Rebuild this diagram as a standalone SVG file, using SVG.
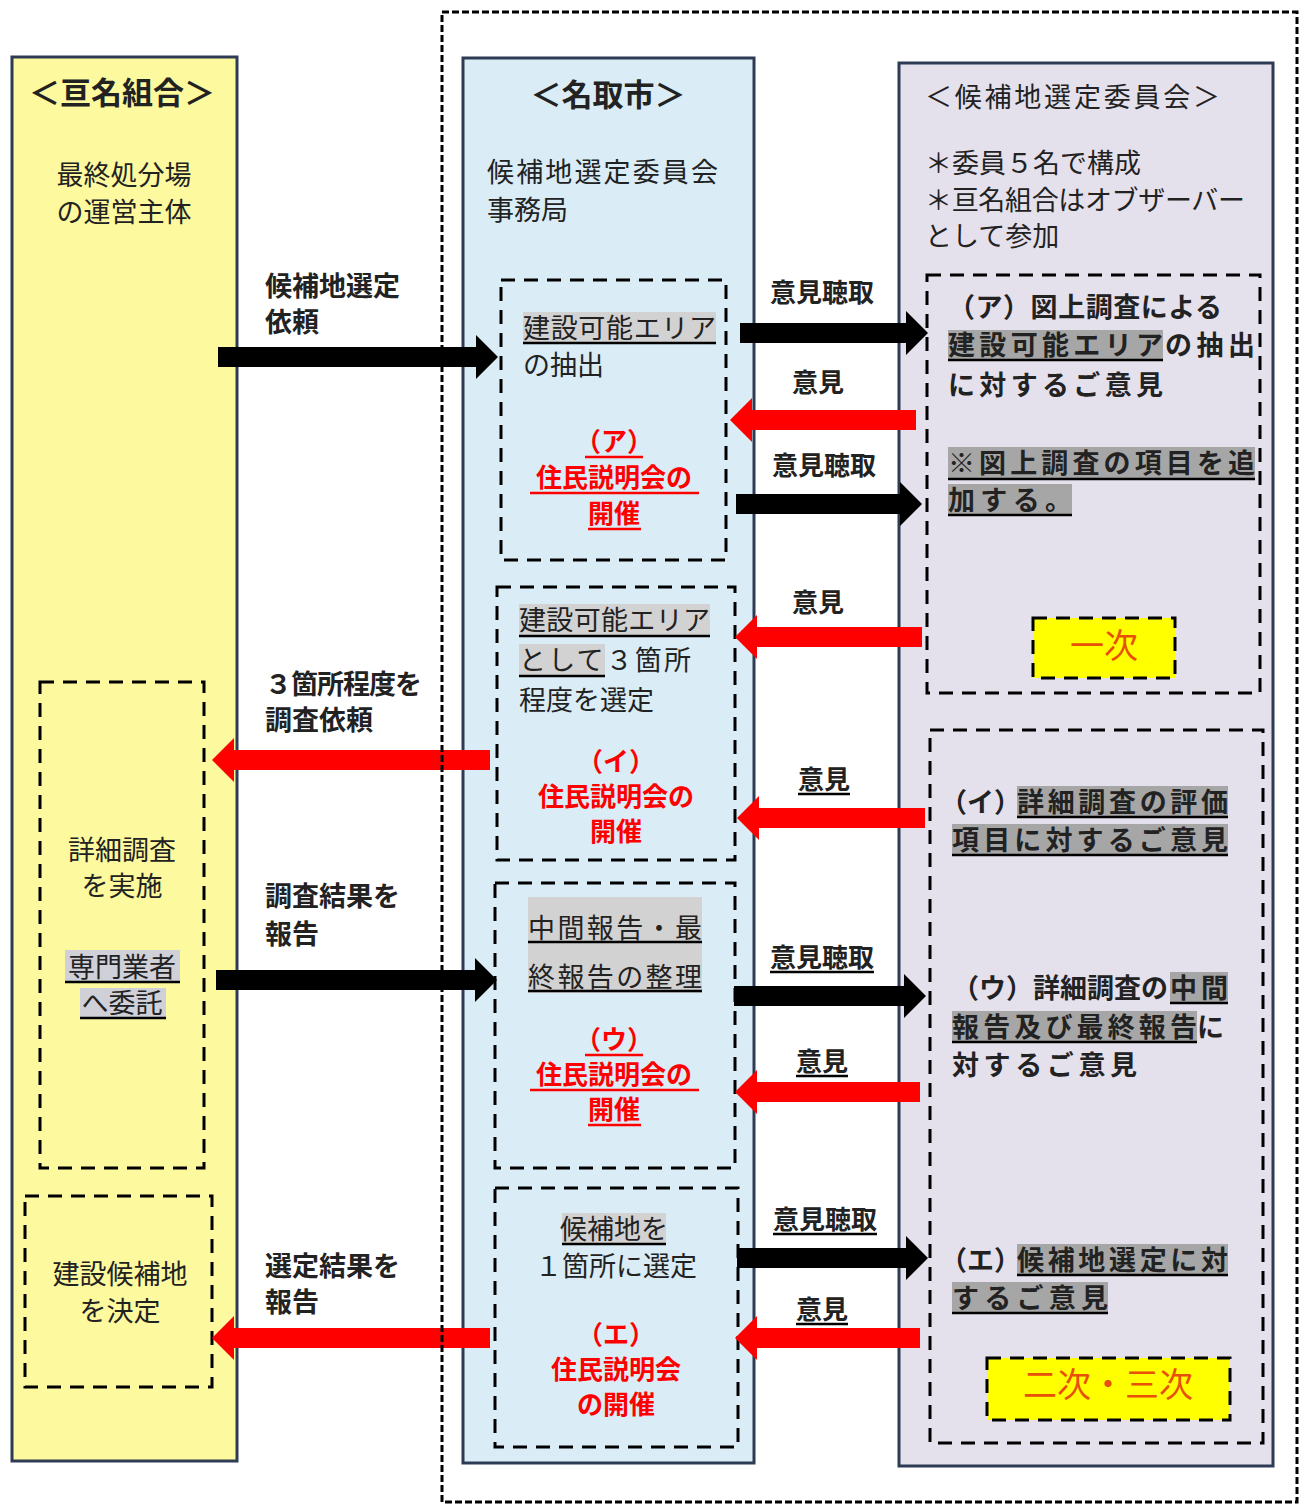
<svg xmlns="http://www.w3.org/2000/svg" width="1306" height="1506" viewBox="0 0 1306 1506">
<style>
text{font-family:"Noto Sans CJK JP","Noto Sans CJK SC",sans-serif;fill:#222}
.col{stroke:#2e3b55;stroke-width:3}
.dash{fill:none;stroke:#000;stroke-width:3;stroke-dasharray:14 9}
.t{font-size:27px}
.tb{font-size:27px;font-weight:bold}
.title{font-size:31px;font-weight:bold}
.red{font-size:26px;font-weight:bold;fill:#ff0000}
.lbl{font-size:26px;font-weight:bold;text-anchor:middle}
.mid{text-anchor:middle}
.hl{fill:#a6a6a6}
.hl2{fill:#d2d2d2}
.ul{stroke:#000;stroke-width:2.5}
.ulr{stroke:#ff0000;stroke-width:2.5}
.blk{fill:#000}
.rd{fill:#ff0000}
.ord{font-size:34px;fill:#e8500a;text-anchor:middle}
</style>

<g id="col-watari">
<rect class="col" x="12" y="57" width="225" height="1404" fill="#fdf99e"/>
<text class="title mid" x="122" y="104" font-size="30">＜亘名組合＞</text>
<text class="t mid" x="124" y="185" fill="#333">最終処分場<tspan x="124" dy="37">の運営主体</tspan></text>
</g>

<g id="node-survey">
<rect class="dash" x="40" y="682" width="164" height="486"/>
<text class="t mid" x="122" y="860">詳細調査<tspan x="122" dy="36">を実施</tspan></text>
<rect x="65" y="950" width="115" height="32" fill="#cfd0d8"/>
<rect x="80" y="988" width="86" height="31" fill="#cfd0d8"/>
<text class="t mid" x="122" y="977">専門業者<tspan x="122" dy="36">へ委託</tspan></text>
<line class="ul" x1="65" y1="982" x2="180" y2="982"/>
<line class="ul" x1="80" y1="1018" x2="166" y2="1018"/>
</g>

<g id="node-decide">
<rect class="dash" x="25" y="1196" width="187" height="191"/>
<text class="t mid" x="120" y="1284">建設候補地<tspan x="120" dy="37">を決定</tspan></text>
</g>

<g id="col-natori">
<rect class="col" x="463" y="58" width="291" height="1405" fill="#daecf5"/>
<text class="title mid" x="608" y="106">＜名取市＞</text>
<text class="t" x="487" y="182"><tspan textLength="231">候補地選定委員会</tspan><tspan x="487" dy="38">事務局</tspan></text>
</g>

<g id="node-a">
<rect class="dash" x="501" y="280" width="225" height="280"/>
<rect class="hl2" x="523" y="312" width="193" height="32"/>
<text class="t" x="523" y="338"><tspan textLength="193">建設可能エリア</tspan><tspan x="523" dy="37">の抽出</tspan></text>
<line class="ul" x1="523" y1="343" x2="716" y2="343"/>
<text class="red mid" x="614" y="451">（ア）<tspan x="614" dy="36">住民説明会の</tspan><tspan x="614" dy="36">開催</tspan></text>
<line class="ulr" x1="585" y1="457" x2="643" y2="457"/>
<line class="ulr" x1="530" y1="493" x2="699" y2="493"/>
<line class="ulr" x1="588" y1="529" x2="641" y2="529"/>
</g>

<g id="node-b">
<rect class="dash" x="497" y="587" width="238" height="273"/>
<rect class="hl2" x="519" y="604" width="191" height="32"/>
<rect class="hl2" x="519" y="644" width="86" height="32"/>
<text class="t" x="519" y="630"><tspan textLength="191">建設可能エリア</tspan><tspan x="519" dy="40" textLength="172">として３箇所</tspan><tspan x="519" dy="40">程度を選定</tspan></text>
<line class="ul" x1="519" y1="636" x2="710" y2="636"/>
<line class="ul" x1="519" y1="676" x2="605" y2="676"/>
<text class="red mid" x="616" y="771">（イ）<tspan x="616" dy="35">住民説明会の</tspan><tspan x="616" dy="35">開催</tspan></text>
</g>

<g id="node-c">
<rect class="dash" x="495" y="883" width="240" height="285"/>
<rect class="hl2" x="528" y="897" width="174" height="96"/>
<text class="t" x="528" y="938"><tspan textLength="174">中間報告・最</tspan><tspan x="528" dy="49" textLength="174">終報告の整理</tspan></text>
<line class="ul" x1="528" y1="942" x2="702" y2="942"/>
<line class="ul" x1="528" y1="991" x2="702" y2="991"/>
<text class="red mid" x="614" y="1049">（ウ）<tspan x="614" dy="35">住民説明会の</tspan><tspan x="614" dy="35">開催</tspan></text>
<line class="ulr" x1="585" y1="1055" x2="643" y2="1055"/>
<line class="ulr" x1="530" y1="1090" x2="699" y2="1090"/>
<line class="ulr" x1="588" y1="1125" x2="641" y2="1125"/>
</g>

<g id="node-d">
<rect class="dash" x="495" y="1188" width="243" height="259"/>
<rect class="hl2" x="562" y="1213" width="104" height="31"/>
<text class="t mid" x="614" y="1239">候補地を<tspan x="616" dy="37">１箇所に選定</tspan></text>
<line class="ul" x1="562" y1="1244" x2="666" y2="1244"/>
<text class="red mid" x="616" y="1344">（エ）<tspan x="616" dy="35">住民説明会</tspan><tspan x="616" dy="35">の開催</tspan></text>
</g>

<g id="col-committee">
<rect class="col" x="899" y="63" width="374" height="1403" fill="#e4e0ec"/>
<text class="t" x="925" y="107" font-size="28" textLength="295">＜候補地選定委員会＞</text>
<text class="t" x="925" y="173">＊委員５名で構成<tspan x="925" dy="37" textLength="320">＊亘名組合はオブザーバー</tspan><tspan x="925" dy="36">として参加</tspan></text>
</g>

<g id="node-e">
<rect class="dash" x="927" y="275" width="333" height="418"/>
<rect class="hl" x="948" y="330" width="215" height="31"/>
<rect class="hl" x="948" y="447" width="307" height="32"/>
<rect class="hl" x="948" y="484" width="124" height="32"/>
<text class="tb" x="948" y="317"><tspan textLength="274">（ア）図上調査による</tspan><tspan x="948" dy="38" textLength="215">建設可能エリア</tspan><tspan x="1165" textLength="90">の抽出</tspan><tspan x="948" dy="40" textLength="215">に対するご意見</tspan><tspan x="948" dy="78" textLength="307">※図上調査の項目を追</tspan><tspan x="948" dy="37" textLength="124">加する。</tspan></text>
<line class="ul" x1="948" y1="360" x2="1163" y2="360"/>
<line class="ul" x1="948" y1="479" x2="1255" y2="479"/>
<line class="ul" x1="948" y1="515" x2="1072" y2="515"/>
</g>

<g id="node-first">
<rect x="1033" y="618" width="142" height="60" fill="#ffff00"/>
<rect class="dash" x="1033" y="618" width="142" height="60"/>
<text class="ord" x="1104" y="658">一次</text>
</g>

<g id="node-f">
<rect class="dash" x="930" y="730" width="333" height="713"/>
<rect class="hl" x="1017" y="786" width="211" height="31"/>
<rect class="hl" x="952" y="824" width="276" height="31"/>
<text class="tb" x="940" y="812">（イ）<tspan x="1017" textLength="211">詳細調査の評価</tspan><tspan x="952" dy="38" textLength="276">項目に対するご意見</tspan></text>
<line class="ul" x1="1017" y1="817" x2="1228" y2="817"/>
<line class="ul" x1="952" y1="855" x2="1228" y2="855"/>

<rect class="hl" x="1170" y="972" width="58" height="31"/>
<rect class="hl" x="952" y="1011" width="245" height="31"/>
<text class="tb" x="952" y="998"><tspan textLength="216">（ウ）詳細調査の</tspan><tspan x="1170" textLength="58">中間</tspan><tspan x="952" dy="39" textLength="245">報告及び最終報告</tspan><tspan x="1197">に</tspan><tspan x="952" dy="38" textLength="185">対するご意見</tspan></text>
<line class="ul" x1="1170" y1="1003" x2="1228" y2="1003"/>
<line class="ul" x1="952" y1="1042" x2="1197" y2="1042"/>

<rect class="hl" x="1017" y="1244" width="211" height="31"/>
<rect class="hl" x="952" y="1282" width="156" height="31"/>
<text class="tb" x="940" y="1270">（エ）<tspan x="1017" textLength="211">候補地選定に対</tspan><tspan x="952" dy="38" textLength="156">するご意見</tspan></text>
<line class="ul" x1="1017" y1="1275" x2="1228" y2="1275"/>
<line class="ul" x1="952" y1="1313" x2="1108" y2="1313"/>
</g>

<g id="node-second">
<rect x="987" y="1358" width="243" height="62" fill="#ffff00"/>
<rect class="dash" x="987" y="1358" width="243" height="62"/>
<text class="ord" x="1108" y="1397">二次・三次</text>
</g>

<g id="connectors">
<path class="blk" d="M218,347 H476 V335 L498,357 L476,379 V367 H218 Z"/>
<path class="blk" d="M740,323 H906 V311 L928,333 L906,355 V343 H740 Z"/>
<path class="rd" d="M916,410 H752 V398 L730,420 L752,442 V430 H916 Z"/>
<path class="blk" d="M736,494 H900 V482 L922,504 L900,526 V514 H736 Z"/>
<path class="rd" d="M922,627 H757 V615 L735,637 L757,659 V647 H922 Z"/>
<path class="rd" d="M490,750 H234 V738 L212,760 L234,782 V770 H490 Z"/>
<path class="rd" d="M925,808 H759 V796 L737,818 L759,840 V828 H925 Z"/>
<path class="blk" d="M216,970 H475 V958 L497,980 L475,1002 V990 H216 Z"/>
<path class="blk" d="M734,986 H904 V974 L926,996 L904,1018 V1006 H734 Z"/>
<path class="rd" d="M920,1082 H757 V1070 L735,1092 L757,1114 V1102 H920 Z"/>
<path class="blk" d="M737,1248 H906 V1236 L928,1258 L906,1280 V1268 H737 Z"/>
<path class="rd" d="M920,1328 H757 V1316 L735,1338 L757,1360 V1348 H920 Z"/>
<path class="rd" d="M490,1328 H234 V1316 L212,1338 L234,1360 V1348 H490 Z"/>

<text class="tb" x="265" y="296">候補地選定<tspan x="265" dy="36">依頼</tspan></text>
<text class="tb" x="265" y="694"><tspan textLength="157">３箇所程度を</tspan><tspan x="265" dy="36">調査依頼</tspan></text>
<text class="tb" x="265" y="906">調査結果を<tspan x="265" dy="38">報告</tspan></text>
<text class="tb" x="265" y="1276">選定結果を<tspan x="265" dy="36">報告</tspan></text>

<text class="lbl" x="822" y="302">意見聴取</text>
<text class="lbl" x="818" y="392">意見</text>
<text class="lbl" x="824" y="475">意見聴取</text>
<text class="lbl" x="818" y="612">意見</text>
<text class="lbl" x="824" y="789">意見</text>
<line class="ul" x1="798" y1="794" x2="850" y2="794"/>
<text class="lbl" x="822" y="967">意見聴取</text>
<line class="ul" x1="770" y1="972" x2="874" y2="972"/>
<text class="lbl" x="822" y="1071">意見</text>
<line class="ul" x1="796" y1="1076" x2="848" y2="1076"/>
<text class="lbl" x="825" y="1229">意見聴取</text>
<line class="ul" x1="773" y1="1234" x2="877" y2="1234"/>
<text class="lbl" x="822" y="1319">意見</text>
<line class="ul" x1="796" y1="1324" x2="848" y2="1324"/>
</g>

<rect id="frame" x="442" y="12" width="855" height="1490" fill="none" stroke="#000" stroke-width="3" stroke-dasharray="7 3"/>
</svg>
